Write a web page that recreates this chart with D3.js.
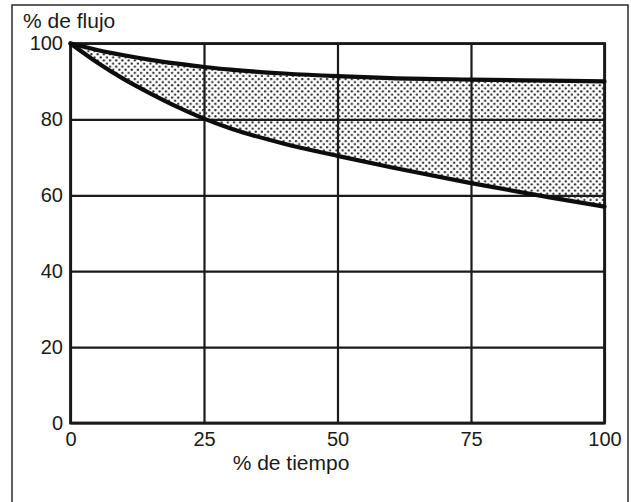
<!DOCTYPE html>
<html>
<head>
<meta charset="utf-8">
<script src="https://cdn.jsdelivr.net/npm/d3@7/dist/d3.min.js"></script>
<style>
  html, body { margin: 0; padding: 0; background: #fff; }
  svg { display: block; }
  text { font-family: "Liberation Sans", Arial, Helvetica, sans-serif; fill: #1a1a1a; }
</style>
</head>
<body>
<svg id="chart" width="631" height="502"></svg>
<script>
// Time share (% of period) at which flow is sampled
const timePct = [0, 5, 10, 15, 20, 25, 30, 40, 50, 60, 75, 90, 100];
// Upper flow envelope (% of initial flow)
const upperFlow = [100, 98.3, 96.9, 95.7, 94.7, 93.8, 93.1, 92.1, 91.4, 90.9, 90.5, 90.2, 90.0];
// Lower flow envelope (% of initial flow)
const lowerFlow = [100, 95.0, 90.6, 86.8, 83.3, 80.2, 77.6, 73.6, 70.4, 67.4, 63.2, 59.4, 57.0];

const xTicks = [0, 25, 50, 75, 100];
const yTicks = [0, 20, 40, 60, 80, 100];
const xTitle = "% de tiempo";
const yTitle = "% de flujo";

const svg = d3.select("#chart");
const ink = "#1a1a1a";

// Outer frame (open at the bottom edge of the page)
svg.append("path")
  .attr("d", "M12,510 L12,5 L628,5 L628,510")
  .attr("fill", "none")
  .attr("stroke", "#2a2a2a")
  .attr("stroke-width", 1.5);

const x = d3.scaleLinear().domain([0, 100]).range([70.5, 604.5]);
const y = d3.scaleLinear().domain([0, 100]).range([423, 43.5]);

// Stipple pattern for the band between the two curves
const defs = svg.append("defs");
const pat = defs.append("pattern")
  .attr("id", "stipple")
  .attr("patternUnits", "userSpaceOnUse")
  .attr("width", 6.2)
  .attr("height", 6.2);
pat.append("circle").attr("cx", 1.55).attr("cy", 1.55).attr("r", 1.15).attr("fill", "#262626");
pat.append("circle").attr("cx", 4.65).attr("cy", 4.65).attr("r", 1.15).attr("fill", "#262626");

const pts = timePct.map((t, i) => ({ t, hi: upperFlow[i], lo: lowerFlow[i] }));

const band = d3.area()
  .x(d => x(d.t))
  .y0(d => y(d.lo))
  .y1(d => y(d.hi))
  .curve(d3.curveMonotoneX);

svg.append("path")
  .datum(pts)
  .attr("d", band)
  .attr("fill", "url(#stipple)");

// Grid + tick labels
const gx = svg.append("g")
  .attr("transform", `translate(0,${y(0)})`)
  .call(d3.axisBottom(x).tickValues(xTicks).tickFormat(d3.format("d"))
    .tickSizeInner(-(y(0) - y(100))).tickSizeOuter(0).tickPadding(9));
gx.select(".domain").remove();
gx.selectAll(".tick line").attr("stroke", ink).attr("stroke-width", 2.2);
gx.selectAll(".tick text").attr("font-size", 20).attr("fill", "#1a1a1a");

const gy = svg.append("g")
  .attr("transform", `translate(${x(0)},0)`)
  .call(d3.axisLeft(y).tickValues(yTicks).tickFormat(d3.format("d"))
    .tickSizeInner(-(x(100) - x(0))).tickSizeOuter(0).tickPadding(7.5));
gy.select(".domain").remove();
gy.selectAll(".tick line").attr("stroke", ink).attr("stroke-width", 2.2);
gy.selectAll(".tick text").attr("font-size", 20).attr("fill", "#1a1a1a");

// Plot frame
svg.append("rect")
  .attr("x", x(0)).attr("y", y(100))
  .attr("width", x(100) - x(0)).attr("height", y(0) - y(100))
  .attr("fill", "none").attr("stroke", ink).attr("stroke-width", 2.8);

// Envelope curves
const line = key => d3.line().x(d => x(d.t)).y(d => y(d[key])).curve(d3.curveMonotoneX);
["hi", "lo"].forEach(k => {
  svg.append("path")
    .datum(pts)
    .attr("d", line(k))
    .attr("fill", "none")
    .attr("stroke", "#0d0d0d")
    .attr("stroke-width", 4.2)
    .attr("stroke-linecap", "round")
    .attr("stroke-linejoin", "round");
});

// Axis titles
svg.append("text")
  .attr("x", 23).attr("y", 28)
  .attr("font-size", 21)
  .text(yTitle);

svg.append("text")
  .attr("x", 291).attr("y", 470)
  .attr("text-anchor", "middle")
  .attr("font-size", 21)
  .text(xTitle);
</script>
</body>
</html>
